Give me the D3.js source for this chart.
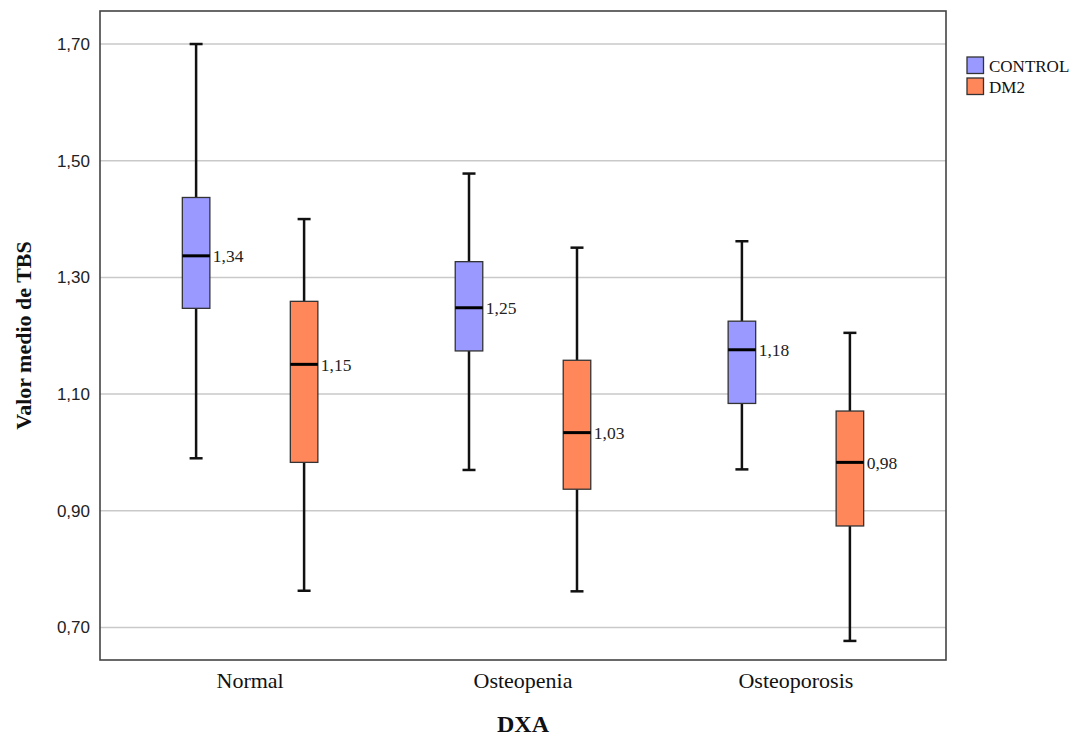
<!DOCTYPE html>
<html>
<head>
<meta charset="utf-8">
<script src="https://cdn.jsdelivr.net/npm/d3@7"></script>
<style>
  html, body { margin: 0; padding: 0; background: #ffffff; }
  svg { display: block; }
</style>
</head>
<body>
<svg id="chart" width="1079" height="738"></svg>
<script>
// DXA categories and study groups
const categories = ["Normal", "Osteopenia", "Osteoporosis"];
const groups = ["CONTROL", "DM2"];

// Box-plot statistics of the mean TBS value, one entry per DXA category
const controlLow    = [0.990, 0.970, 0.971];
const controlQ1     = [1.247, 1.174, 1.084];
const controlMedian = [1.337, 1.248, 1.176];
const controlQ3     = [1.437, 1.327, 1.225];
const controlHigh   = [1.700, 1.478, 1.362];

const dm2Low    = [0.763, 0.762, 0.677];
const dm2Q1     = [0.983, 0.937, 0.874];
const dm2Median = [1.151, 1.034, 0.983];
const dm2Q3     = [1.259, 1.158, 1.071];
const dm2High   = [1.400, 1.351, 1.205];

// Y axis ticks
const yTicks = [0.70, 0.90, 1.10, 1.30, 1.50, 1.70];

const groupColors = { "CONTROL": "#9999ff", "DM2": "#ff875a" };

const stats = {
  "CONTROL": { low: controlLow, q1: controlQ1, median: controlMedian, q3: controlQ3, high: controlHigh },
  "DM2":     { low: dm2Low,     q1: dm2Q1,     median: dm2Median,     q3: dm2Q3,     high: dm2High }
};

const boxes = [];
categories.forEach((cat, i) => {
  groups.forEach(g => {
    const s = stats[g];
    boxes.push({ cat, group: g, low: s.low[i], q1: s.q1[i], median: s.median[i], q3: s.q3[i], high: s.high[i] });
  });
});

const es = d3.formatLocale({ decimal: ",", thousands: ".", grouping: [3], currency: ["", " €"] });
const fmt = es.format(".2f");

const svg = d3.select("#chart");
const plot = { left: 100, right: 946, top: 11, bottom: 660 };

const x = d3.scaleBand()
  .domain(categories)
  .range([plot.left, plot.right])
  .paddingInner(0)
  .paddingOuter(0.05);

const xSub = d3.scaleBand()
  .domain(groups)
  .range([0, x.bandwidth()])
  .paddingInner(0.745)
  .paddingOuter(0.636);

const y = d3.scaleLinear()
  .domain([0.6443, 1.7566])
  .range([plot.bottom, plot.top]);

// Horizontal grid lines
svg.append("g")
  .selectAll("line")
  .data(yTicks)
  .join("line")
  .attr("x1", plot.left)
  .attr("x2", plot.right)
  .attr("y1", d => y(d))
  .attr("y2", d => y(d))
  .attr("stroke", "#c9c9c9")
  .attr("stroke-width", 1.5);

// Y axis tick labels
const yAxis = d3.axisLeft(y).tickValues(yTicks).tickFormat(fmt).tickSize(0).tickPadding(10);
const yAxisG = svg.append("g")
  .attr("transform", `translate(${plot.left},0)`)
  .call(yAxis);
yAxisG.select(".domain").remove();
yAxisG.selectAll("text")
  .attr("font-family", "'Liberation Sans', Arial, sans-serif")
  .attr("font-size", 17)
  .attr("fill", "#222");

// X axis category labels
const xAxis = d3.axisBottom(x).tickSize(0).tickPadding(0);
const xAxisG = svg.append("g")
  .attr("transform", `translate(0,${plot.bottom})`)
  .call(xAxis);
xAxisG.select(".domain").remove();
xAxisG.selectAll("text")
  .attr("y", 28)
  .attr("dy", 0)
  .attr("font-family", "'Liberation Serif', 'Times New Roman', serif")
  .attr("font-size", 22)
  .attr("fill", "#111");

// Axis titles
svg.append("text")
  .attr("x", (plot.left + plot.right) / 2)
  .attr("y", 732)
  .attr("text-anchor", "middle")
  .attr("font-family", "'Liberation Serif', 'Times New Roman', serif")
  .attr("font-weight", "bold")
  .attr("font-size", 24)
  .attr("fill", "#111")
  .text("DXA");

svg.append("text")
  .attr("transform", `translate(31,${(plot.top + plot.bottom) / 2}) rotate(-90)`)
  .attr("text-anchor", "middle")
  .attr("font-family", "'Liberation Serif', 'Times New Roman', serif")
  .attr("font-weight", "bold")
  .attr("font-size", 22)
  .attr("fill", "#111")
  .text("Valor medio de TBS");

// Box plots
const bw = xSub.bandwidth();
const capW = 13;
const boxG = svg.append("g")
  .selectAll("g")
  .data(boxes)
  .join("g")
  .attr("transform", d => `translate(${x(d.cat) + xSub(d.group)},0)`);

// whisker stems
boxG.append("line")
  .attr("x1", bw / 2).attr("x2", bw / 2)
  .attr("y1", d => y(d.high)).attr("y2", d => y(d.q3))
  .attr("stroke", "#111").attr("stroke-width", 2.5);
boxG.append("line")
  .attr("x1", bw / 2).attr("x2", bw / 2)
  .attr("y1", d => y(d.q1)).attr("y2", d => y(d.low))
  .attr("stroke", "#111").attr("stroke-width", 2.5);

// whisker caps
boxG.append("line")
  .attr("x1", bw / 2 - capW / 2).attr("x2", bw / 2 + capW / 2)
  .attr("y1", d => y(d.high)).attr("y2", d => y(d.high))
  .attr("stroke", "#111").attr("stroke-width", 2.5);
boxG.append("line")
  .attr("x1", bw / 2 - capW / 2).attr("x2", bw / 2 + capW / 2)
  .attr("y1", d => y(d.low)).attr("y2", d => y(d.low))
  .attr("stroke", "#111").attr("stroke-width", 2.5);

// interquartile boxes
boxG.append("rect")
  .attr("x", 0)
  .attr("width", bw)
  .attr("y", d => y(d.q3))
  .attr("height", d => y(d.q1) - y(d.q3))
  .attr("fill", d => groupColors[d.group])
  .attr("stroke", "#333")
  .attr("stroke-width", 1.3);

// median lines
boxG.append("line")
  .attr("x1", 0).attr("x2", bw)
  .attr("y1", d => y(d.median)).attr("y2", d => y(d.median))
  .attr("stroke", "#000").attr("stroke-width", 3);

// median value labels
boxG.append("text")
  .attr("x", bw + 3)
  .attr("y", d => y(d.median))
  .attr("dy", "0.38em")
  .attr("font-family", "'Liberation Serif', 'Times New Roman', serif")
  .attr("font-size", 17.5)
  .attr("fill", "#222")
  .text(d => fmt(d.median));

// Plot frame
svg.append("rect")
  .attr("x", plot.left)
  .attr("y", plot.top)
  .attr("width", plot.right - plot.left)
  .attr("height", plot.bottom - plot.top)
  .attr("fill", "none")
  .attr("stroke", "#444")
  .attr("stroke-width", 1.6);

// Legend
const legend = svg.append("g")
  .attr("transform", "translate(967,57)")
  .selectAll("g")
  .data(groups)
  .join("g")
  .attr("transform", (d, i) => `translate(0,${i * 21})`);
legend.append("rect")
  .attr("width", 16.5)
  .attr("height", 16.5)
  .attr("fill", d => groupColors[d])
  .attr("stroke", "#333")
  .attr("stroke-width", 1.3);
legend.append("text")
  .attr("x", 22)
  .attr("y", 14.5)
  .attr("font-family", "'Liberation Serif', 'Times New Roman', serif")
  .attr("font-size", 17)
  .attr("fill", "#111")
  .text(d => d);
</script>
</body>
</html>
